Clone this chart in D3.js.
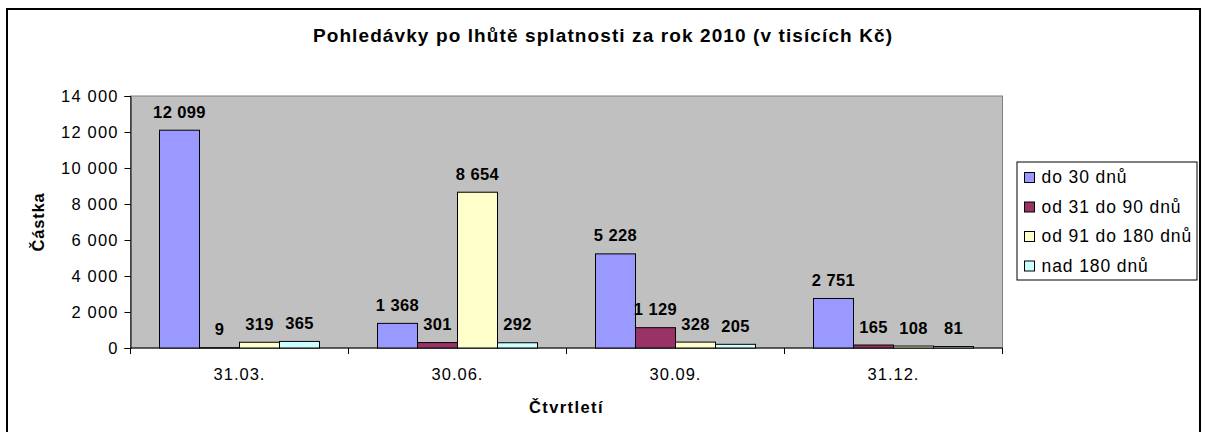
<!DOCTYPE html>
<html>
<head>
<meta charset="utf-8">
<script src="https://cdn.jsdelivr.net/npm/d3@7"></script>
<style>
  body { margin: 0; background: #fff; }
  text { font-family: Arial, "Liberation Sans", sans-serif; fill: #000; }
</style>
</head>
<body>
<script>
// data
const categories = ['31.03.', '30.06.', '30.09.', '31.12.'];
const seriesNames = ['do 30 dnů', 'od 31 do 90 dnů', 'od 91 do 180 dnů', 'nad 180 dnů'];
const do30 = [12099, 1368, 5228, 2751];
const od31 = [9, 301, 1129, 165];
const od91 = [319, 8654, 328, 108];
const nad180 = [365, 292, 205, 81];
const yTicks = [0, 2000, 4000, 6000, 8000, 10000, 12000, 14000];

const colors = ['#9999ff', '#993366', '#ffffcc', '#ccffff'];
const seriesValues = [do30, od31, od91, nad180];

let width = 1206;
let height = 432;
let plot = {left: 130.5, right: 1002.5, top: 96, bottom: 348};

let svg = d3.select('body')
    .append('svg')
    .attr('width', width)
    .attr('height', height);

// outer frame
svg.append('rect')
    .attr('x', 7)
    .attr('y', 9)
    .attr('width', 1193)
    .attr('height', 440)
    .attr('fill', '#fff')
    .attr('stroke', '#000')
    .attr('stroke-width', 2);

//title
svg.append('text')
    .attr('x', 603)
    .attr('y', 42)
    .attr('text-anchor', 'middle')
    .style('font-size', '19px')
    .style('font-weight', 'bold')
    .style('letter-spacing', '1.1px')
    .text('Pohledávky po lhůtě splatnosti za rok 2010 (v tisících Kč)');

//scales
let x0 = d3.scaleBand()
    .domain(categories)
    .range([plot.left, plot.right]);

let x1 = d3.scaleBand()
    .domain(seriesNames)
    .range([0, x0.bandwidth()])
    .paddingOuter(0.725);

let y = d3.scaleLinear()
    .domain([0, 14000])
    .range([plot.bottom, plot.top]);

// plot background
svg.append('rect')
    .attr('x', plot.left)
    .attr('y', plot.top)
    .attr('width', plot.right - plot.left)
    .attr('height', plot.bottom - plot.top)
    .attr('fill', '#c0c0c0')
    .attr('stroke', '#808080')
    .attr('stroke-width', 1);

//yAxis
let yAxis = d3.axisLeft(y)
    .tickValues(yTicks)
    .tickSizeOuter(0)
    .tickSize(6)
    .tickPadding(7)
    .tickFormat(d => d3.format(',')(d).replace(/,/g, ' '));

let gy = svg.append('g')
    .attr('transform', `translate(${plot.left}, 0)`)
    .call(yAxis);
gy.selectAll('text')
    .style('font-size', '16.5px')
    .style('letter-spacing', '1.2px')
    .attr('dx', '1.2px');
gy.select('.domain').attr('stroke', '#000');

//xAxis - ticks sit on the category boundaries
let boundaries = categories.map(c => x0(c)).concat([plot.right]);
let gx = svg.append('g')
    .attr('transform', `translate(0, ${plot.bottom})`);
gx.append('line')
    .attr('x1', plot.left).attr('x2', plot.right)
    .attr('stroke', '#000');
gx.selectAll('.tick')
    .data(boundaries)
    .enter()
    .append('line')
    .attr('x1', d => d).attr('x2', d => d)
    .attr('y1', 0).attr('y2', 6)
    .attr('stroke', '#000');
gx.selectAll('.cat')
    .data(categories)
    .enter()
    .append('text')
    .attr('x', d => x0(d) + x0.bandwidth() / 2)
    .attr('y', 32)
    .attr('text-anchor', 'middle')
    .style('font-size', '16.5px')
    .style('letter-spacing', '1px')
    .text(d => d);

// axis titles
svg.append('text')
    .attr('transform', `translate(44, ${(plot.top + plot.bottom) / 2}) rotate(-90)`)
    .attr('text-anchor', 'middle')
    .style('font-size', '16.5px')
    .style('font-weight', 'bold')
    .style('letter-spacing', '0.8px')
    .text('Částka');

svg.append('text')
    .attr('x', (plot.left + plot.right) / 2)
    .attr('y', 413)
    .attr('text-anchor', 'middle')
    .style('font-size', '16.5px')
    .style('font-weight', 'bold')
    .style('letter-spacing', '1.4px')
    .text('Čtvrtletí');

//bars
let rows = [];
categories.forEach((c, i) => {
    seriesNames.forEach((s, j) => {
        rows.push({cat: c, series: s, value: seriesValues[j][i], color: colors[j]});
    });
});

let bars = svg.append('g');
bars.selectAll('rect')
    .data(rows)
    .enter()
    .append('rect')
    .attr('x', d => x0(d.cat) + x1(d.series))
    .attr('y', d => y(d.value))
    .attr('width', x1.bandwidth())
    .attr('height', d => plot.bottom - y(d.value))
    .attr('fill', d => d.color)
    .attr('stroke', '#000')
    .attr('stroke-width', 1);

bars.selectAll('text')
    .data(rows)
    .enter()
    .append('text')
    .attr('x', d => x0(d.cat) + x1(d.series) + x1.bandwidth() / 2)
    .attr('y', d => y(d.value) - 12.5)
    .attr('text-anchor', 'middle')
    .style('font-size', '16.5px')
    .style('font-weight', 'bold')
    .style('letter-spacing', '0.4px')
    .text(d => d3.format(',')(d.value).replace(/,/g, ' '));

//legend
let legend = svg.append('g')
    .attr('transform', 'translate(1017, 162)');
legend.append('rect')
    .attr('width', 180)
    .attr('height', 118)
    .attr('fill', '#fff')
    .attr('stroke', '#000')
    .attr('stroke-width', 1);
let item = legend.selectAll('.item')
    .data(seriesNames)
    .enter()
    .append('g')
    .attr('transform', (d, i) => `translate(0, ${21 + i * 29.5})`);
item.append('rect')
    .attr('x', 7.5)
    .attr('y', -10.5)
    .attr('width', 10)
    .attr('height', 10)
    .attr('fill', (d, i) => colors[i])
    .attr('stroke', '#000');
item.append('text')
    .attr('x', 24.5)
    .attr('y', 0)
    .style('font-size', '17.5px')
    .style('letter-spacing', '0.9px')
    .text(d => d);
</script>
</body>
</html>
